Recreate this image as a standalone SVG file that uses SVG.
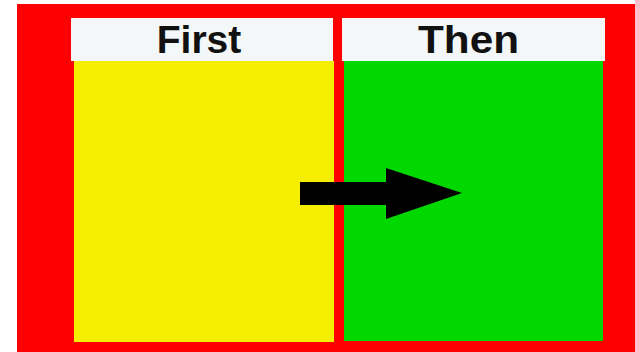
<svg xmlns="http://www.w3.org/2000/svg" width="635" height="352" viewBox="0 0 635 352">
<style>
.hdr{fill:#f3f7f7}
.lbl{font-family:"Liberation Sans",Arial,sans-serif;font-weight:bold;font-size:39px;fill:#111;text-anchor:middle}
</style>
<rect x="0" y="0" width="635" height="352" fill="#ffffff"/>
<rect x="17" y="4" width="618" height="348" fill="#ff0000"/>
<g id="first">
<rect class="hdr" x="71" y="18" width="262" height="43"/>
<rect x="74" y="61" width="260" height="281" fill="#f6ee00"/>
<text class="lbl" x="199" y="53">First</text>
</g>
<g id="then">
<rect class="hdr" x="342" y="18" width="263" height="43"/>
<rect x="344" y="61" width="259" height="280" fill="#00d800"/>
<text class="lbl" x="468.5" y="53" textLength="101" lengthAdjust="spacingAndGlyphs">Then</text>
</g>
<g id="connectors">
<polygon points="300,182 386,182 386,168 462,193 386,219 386,205 300,205" fill="#000000"/>
</g>
</svg>
